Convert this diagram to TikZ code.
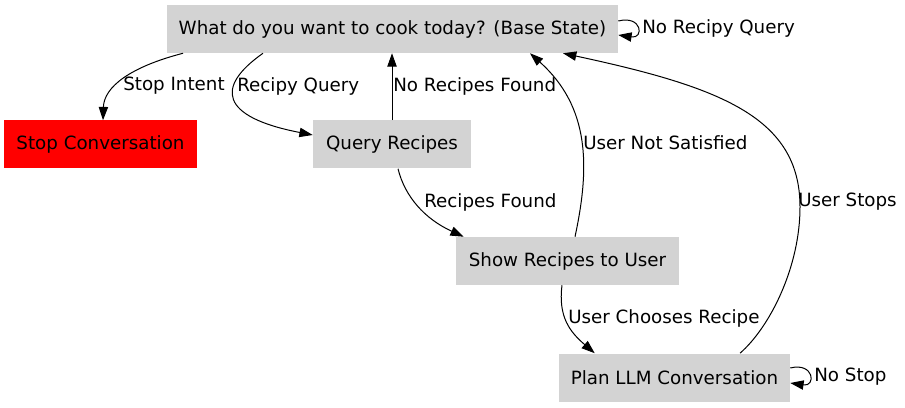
\documentclass[tikz,border=0pt]{standalone}
\usepackage{fontspec}
\setmainfont{DejaVu Sans}
\usetikzlibrary{arrows.meta,calc}

\tikzset{
  state/.style={rectangle, fill={rgb,255:red,211;green,211;blue,211}, minimum height=36pt,
    inner sep=0pt, font=\fontsize{13.7pt}{16pt}\selectfont},
  stopstate/.style={state, fill=red},
  edge/.style={line width=0.75pt, -{Triangle[length=10pt,width=7pt]}},
  lbl/.style={anchor=west, inner sep=0pt, font=\fontsize{13.7pt}{16pt}\selectfont},
}

\begin{document}
\begin{tikzpicture}[x=0.75pt, y=0.75pt]
  \useasboundingbox (0,0) rectangle (905,407);

  % States
  \node[state, minimum width=338.25pt] (base)  at (392.5, 378)  {What do you want to cook today? (Base State)};
  \node[stopstate, minimum width=144.75pt] (stop) at (100.5, 262.5) {Stop Conversation};
  \node[state, minimum width=118.5pt] (query) at (392, 262.5) {Query Recipes};
  \node[state, minimum width=167.25pt] (show)  at (567.5, 146)  {Show Recipes to User};
  \node[state, minimum width=173.25pt] (plan)  at (674.5, 29.5) {Plan LLM Conversation};

  % Transitions
  \draw[edge] ($(base.south)+(-209.5,0)$) .. controls (130,340) and (104,320) .. ($(stop.north)+(2.5,0)$);
  \draw[edge] ($(base.south)+(-129.5,0)$) .. controls (215,320) and (220,290) .. ($(query.west)+(0,9.5)$);
  \draw[edge] (query.north) -- (query.north |- base.south);
  \draw[edge] ($(query.south)+(6,0)$) .. controls (405,210) and (425,188) .. ($(show.north west)+(8,0)$);
  \draw[edge] ($(show.north)+(7.5,0)$) .. controls (590,240) and (590,300) .. ($(base.south)+(137.5,0)$);
  \draw[edge] ($(show.south)+(-5.5,0)$) .. controls (558,90) and (570,75) .. ($(plan.north west)+(36,0)$);
  \draw[edge] ($(plan.north)+(65.5,0)$) .. controls (770,80) and (800,140) .. (800,200)
    .. controls (800,290) and (720,320) .. ($(base.south)+(170.5,0)$);
  \draw[edge] ($(base.east)+(0,8)$) .. controls +(24,6) and +(26,-4) .. ($(base.east)+(0,-6)$);
  \draw[edge] ($(plan.east)+(0,9.5)$) .. controls +(24,6) and +(26,-4) .. ($(plan.east)+(0,-5.5)$);

  % Labels
  \node[lbl] (lstop)    at (123, 321) {Stop Intent};
  \node[lbl] (lquery)   at (237, 321) {Recipy Query};
  \node[lbl] (lnone)    at (393, 321) {No Recipes Found};
  \node[lbl] (lfound)   at (424, 205) {Recipes Found};
  \node[lbl] (lunsat)   at (583, 264) {User Not Satisfied};
  \node[lbl] (lchoose)  at (568, 89)  {User Chooses Recipe};
  \node[lbl] (lstops)   at (798, 205) {User Stops};
  \node[lbl] (lnoquery) at (642, 379) {No Recipy Query};
  \node[lbl] (lnostop)  at (814, 30)  {No Stop};
\end{tikzpicture}
\end{document}
